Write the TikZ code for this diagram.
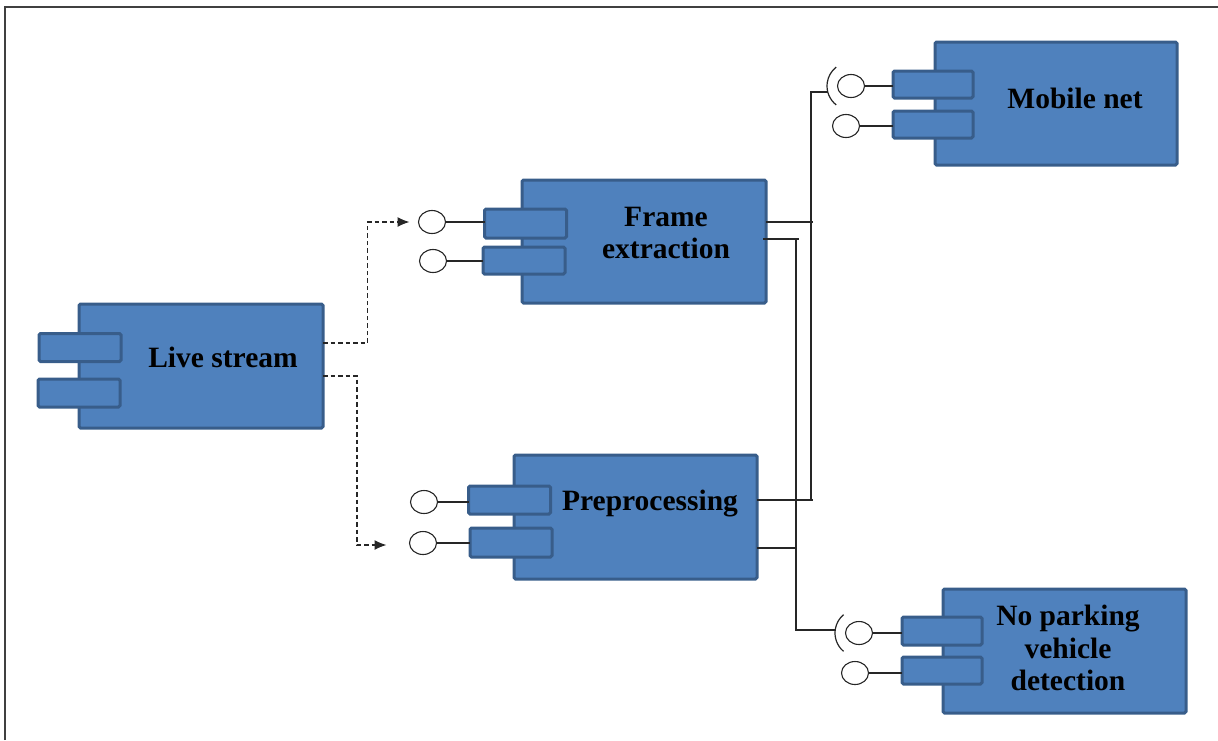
\documentclass[tikz,border=0pt]{standalone}
\usepackage{fontspec}
\setmainfont{Liberation Serif}
\usetikzlibrary{arrows.meta,shapes.geometric}
\definecolor{boxfill}{HTML}{4F81BD}
\definecolor{boxline}{HTML}{385D8A}

\tikzset{
  comp/.style={draw=boxline, fill=boxfill, line width=3pt, rounded corners=1.5pt,
    inner sep=0pt, outer sep=0pt},
  port/.style={comp, minimum width=82pt, minimum height=28pt},
  lolly/.style={draw=black!85, fill=white, line width=1.1pt, ellipse, inner sep=0pt,
    outer sep=0pt, minimum width=27pt, minimum height=23pt},
  label/.style={font=\fontsize{29.5}{32.5}\selectfont\bfseries, align=center,
    inner sep=0pt, text=black},
  wire/.style={draw=black!85, line width=1.2pt},
  sock/.style={draw=black!85, line width=1.2pt},
  flow/.style={draw=black!85, line width=1.2pt, dash pattern=on 4.5pt off 3pt,
    -{Latex[length=12pt,width=10pt]}},
}

\begin{document}
\begin{tikzpicture}[x=1pt, y=-1pt]
\useasboundingbox (0,0) rectangle (1218,740);
% page frame
\draw[line width=2pt, draw=black!75] (5,740) -- (5,6.5) -- (1218,6.5);

% ---- Live stream
\node[comp, minimum width=244pt, minimum height=124pt] (ls) at (201,366) {};
\node[port] (ls-p1) at (80,347.5) {};
\node[port] (ls-p2) at (79,393) {};
\node[label] (ls-t) at (223,357) {Live stream};

% ---- Frame extraction
\node[comp, minimum width=244pt, minimum height=123pt] (fe) at (644,241.5) {};
\node[port, minimum height=29pt] (fe-p1) at (525.5,223.5) {};
\node[port, minimum height=27pt] (fe-p2) at (524,260.5) {};
\node[label] (fe-t) at (666,233) {Frame\\extraction};
\node[lolly] (fe-c1) at (432,222) {};
\node[lolly] (fe-c2) at (433,261) {};
\draw[wire] (fe-c1.east) -- (fe-p1.west |- fe-c1.east);
\draw[wire] (fe-c2.east) -- (fe-p2.west |- fe-c2.east);

% ---- Preprocessing
\node[comp, minimum width=243pt, minimum height=124pt] (pp) at (635.5,517) {};
\node[port] (pp-p1) at (509.5,500) {};
\node[port, minimum height=29pt] (pp-p2) at (511,542.5) {};
\node[label] (pp-t) at (650,503.5) {Preprocessing};
\node[lolly] (pp-c1) at (424,502) {};
\node[lolly] (pp-c2) at (423,543) {};
\draw[wire] (pp-c1.east) -- (pp-p1.west |- pp-c1.east);
\draw[wire] (pp-c2.east) -- (pp-p2.west |- pp-c2.east);

% ---- Mobile net
\node[comp, minimum width=242pt, minimum height=123pt] (mn) at (1056,103.5) {};
\node[port, minimum width=80pt, minimum height=27pt] (mn-p1) at (933,84.5) {};
\node[port, minimum width=80pt, minimum height=27pt] (mn-p2) at (933,124.5) {};
\node[label] (mn-t) at (1075,98) {Mobile net};
\node[lolly] (mn-c1) at (851,86) {};
\node[lolly] (mn-c2) at (846,126) {};
\draw[wire] (mn-c1.east) -- (mn-p1.west |- mn-c1.east);
\draw[wire] (mn-c2.east) -- (mn-p2.west |- mn-c2.east);
\draw[sock] ([shift={(128:24)}]mn-c1.center) arc[start angle=128, end angle=232, radius=24];
\coordinate (mn-sock) at (828,92);

% ---- No parking vehicle detection
\node[comp, minimum width=243pt, minimum height=124pt] (np) at (1064.5,651) {};
\node[port, minimum width=80pt, minimum height=28pt] (np-p1) at (942,631) {};
\node[port, minimum width=80pt, minimum height=27pt] (np-p2) at (942,670.5) {};
\node[label] (np-t) at (1068,648) {No parking\\vehicle\\detection};
\node[lolly] (np-c1) at (859,633) {};
\node[lolly] (np-c2) at (855,673) {};
\draw[wire] (np-c1.east) -- (np-p1.west |- np-c1.east);
\draw[wire] (np-c2.east) -- (np-p2.west |- np-c2.east);
\draw[sock] ([shift={(130:24)}]np-c1.center) arc[start angle=130, end angle=230, radius=24];
\coordinate (np-sock) at (835,630);

% ---- dependency arrows out of the live stream
\draw[flow] (ls.east |- 0,343) -| ([xshift=-51pt]fe-c1.west) -- ([xshift=-9pt]fe-c1.west);
\draw[flow] (ls.east |- 0,376) -| (357,545) -- ([xshift=-23pt]pp-c2.west |- 0,545);

% ---- buses to the required interfaces
\coordinate (busA-top) at (811,92);
\coordinate (busA-bot) at (811,500);
\coordinate (busB-top) at (796,239);
\coordinate (busB-bot) at (796,630);
\draw[wire] (mn-sock) -- (busA-top) -- (busA-bot);
\draw[wire] (fe.east |- 0,222) -- ([xshift=2pt]busA-top |- 0,222);
\draw[wire] (pp.east |- busA-bot) -- ([xshift=2pt]busA-bot);
\draw[wire] (np-sock) -- (busB-bot) -- (busB-top);
\draw[wire] ([xshift=-3pt]fe.east |- busB-top) -- ([xshift=3pt]busB-top);
\draw[wire] (pp.east |- 0,548) -- ([xshift=1pt]busB-top |- 0,548);
\end{tikzpicture}
\end{document}
